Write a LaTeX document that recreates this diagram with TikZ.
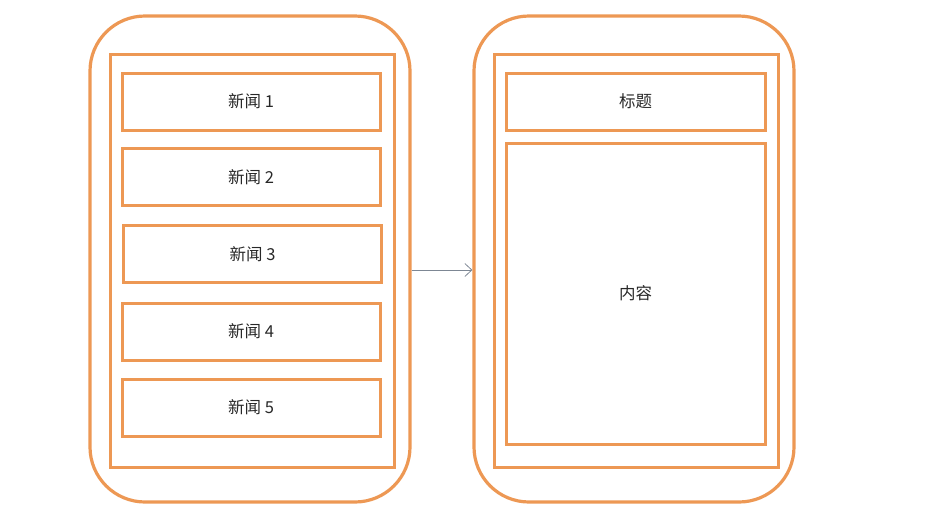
\documentclass[tikz,border=0pt]{standalone}
\usepackage{fontspec}
\setmainfont{Noto Sans CJK SC}
\usetikzlibrary{positioning,arrows.meta}
\definecolor{phoneorange}{RGB}{237,152,84}
\definecolor{arrowgray}{RGB}{125,135,148}
\definecolor{labelgray}{RGB}{40,40,40}

\tikzset{
  phone/.style={draw=phoneorange,line width=3.2pt,rounded corners=55pt,minimum width=320pt,minimum height=486pt},
  screen/.style={draw=phoneorange,line width=3pt,minimum width=284pt,minimum height=413pt},
  item/.style={draw=phoneorange,line width=3pt,minimum width=258pt,minimum height=57pt,text=labelgray,font=\fontsize{16.5}{19}\selectfont}
}

\begin{document}
\begin{tikzpicture}[x=1pt,y=-1pt]
\useasboundingbox (0,0) rectangle (934,531);
% list page
\node [phone] (lphone) at (250,259) {};
\node [screen] (lscreen) at (252,260.5) {};
\foreach \i/\y/\x in {1/101.5/251,2/177/251,3/254/252.5,4/331.5/251,5/407.5/251}
  \node [item] (news\i) at (\x,\y) {新闻 \i};
% detail page
\node [phone] (rphone) at (634,259) {};
\node [screen] (rscreen) at (636,260.5) {};
\node [item,minimum width=259pt] (title) at (635.5,101.5) {标题};
\node [item,minimum width=259pt,minimum height=301pt] (content) at (635.5,293.5) {内容};
\draw [arrowgray,line width=0.8pt,-{Straight Barb[length=7pt,width=13pt]}]
  ([yshift=-11pt]lphone.east) -- ([yshift=-11pt]rphone.west);
\end{tikzpicture}
\end{document}
